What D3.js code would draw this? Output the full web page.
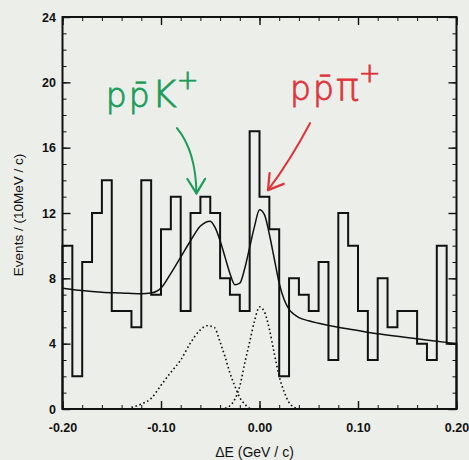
<!DOCTYPE html>
<html>
<head>
<meta charset="utf-8">
<script src="https://cdn.jsdelivr.net/npm/d3@7/dist/d3.min.js"></script>
<style>
  html, body { margin: 0; padding: 0; background: #eceee9; }
  svg { display: block; }
</style>
</head>
<body>
<svg id="chart" width="469" height="460"></svg>
<script>
// ΔE distribution: 40 bins of 10 MeV between -0.20 and 0.20 GeV
const binStart = -0.20;
const binWidth = 0.01;
const eventCounts = [
  10, 2, 9, 12, 14, 6, 6, 5, 14, 7,
  11, 13, 6, 12, 13, 12, 8, 7, 6, 17,
  13, 11, 2, 8, 7, 6, 9, 3, 12, 10,
  6, 3, 8, 5, 6, 6, 4, 3, 10, 4
];

// Total fit (signal + background), sampled along ΔE
const fitE = [-0.20, -0.18, -0.16, -0.14, -0.12, -0.11, -0.10, -0.09, -0.08, -0.07,
  -0.06, -0.05, -0.045, -0.04, -0.035, -0.03, -0.025, -0.02, -0.015, -0.01,
  -0.005, 0.00, 0.005, 0.01, 0.015, 0.02, 0.025, 0.03, 0.035, 0.04,
  0.05, 0.06, 0.08, 0.10, 0.12, 0.14, 0.16, 0.18, 0.20];
const fitTotal = [7.4, 7.25, 7.15, 7.1, 7.05, 7.1, 7.4, 8.3, 9.3, 10.3,
  11.2, 11.5, 11.1, 10.3, 9.3, 8.3, 7.6, 7.7, 8.6, 9.9,
  11.2, 12.2, 11.9, 10.7, 9.2, 7.7, 6.7, 6.1, 5.8, 5.6,
  5.4, 5.25, 5.0, 4.8, 4.6, 4.45, 4.3, 4.15, 4.0];

// p p̄ K+ signal component
const kaonE = [-0.13, -0.12, -0.11, -0.10, -0.09, -0.08, -0.07, -0.06, -0.053, -0.046,
  -0.04, -0.035, -0.03, -0.025, -0.02, -0.015, -0.01, -0.005];
const kaonSignal = [0.1, 0.3, 0.65, 1.45, 2.25, 3.0, 4.05, 4.85, 5.1, 5.0,
  4.1, 3.2, 2.2, 1.4, 0.7, 0.3, 0.05, 0.0];

// p p̄ π+ signal component
const pionE = [-0.035, -0.03, -0.025, -0.02, -0.015, -0.01, -0.005, 0.0, 0.005, 0.01,
  0.015, 0.02, 0.025, 0.03, 0.035, 0.04];
const pionSignal = [0.05, 0.2, 0.6, 1.4, 2.8, 4.1, 5.4, 6.25, 5.95, 4.9,
  3.4, 2.0, 1.05, 0.4, 0.1, 0.02];

// Axis ticks
const xTickValues = [-0.20, -0.10, 0.00, 0.10, 0.20];
const xTickLabels = ["-0.20", "-0.10", "0.00", "0.10", "0.20"];
const xMinorTicks = d3.range(-0.20, 0.2001, 0.02);
const yTickValues = [0, 4, 8, 12, 16, 20, 24];
const yTickLabels = ["0", "4", "8", "12", "16", "20", "24"];
const yMinorTicks = d3.range(0, 24.001, 1);

const W = 469, H = 460;
const margin = { left: 62.5, right: 12.5, top: 17, bottom: 51 };

const svg = d3.select("#chart");
const x = d3.scaleLinear().domain([-0.20, 0.20]).range([margin.left, W - margin.right]);
const y = d3.scaleLinear().domain([0, 24]).range([H - margin.bottom, margin.top]);

const ink = "#111";

// ---- axes (ticks point inward on all four sides) ----
function styleAxis(g) {
  g.select(".domain").remove();
  g.selectAll(".tick line").attr("stroke", ink);
  g.selectAll(".tick text")
    .attr("fill", ink)
    .style("font-family", "'Liberation Sans', Arial, sans-serif")
    .style("font-weight", "bold")
    .style("font-size", "12.5px");
}

const bottomY = y(0), topY = y(24), leftX = x(-0.2), rightX = x(0.2);

svg.append("g").attr("transform", `translate(0,${bottomY})`)
  .call(d3.axisBottom(x).tickValues(xMinorTicks).tickSize(-4).tickFormat(""))
  .call(styleAxis);
svg.append("g").attr("transform", `translate(0,${bottomY})`)
  .call(d3.axisBottom(x).tickValues(xTickValues).tickSize(-8).tickPadding(14)
    .tickFormat((d, i) => xTickLabels[i]))
  .call(styleAxis)
  .call(g => g.selectAll(".tick line").attr("stroke-width", 1.4));

svg.append("g").attr("transform", `translate(0,${topY})`)
  .call(d3.axisTop(x).tickValues(xMinorTicks).tickSize(-4).tickFormat(""))
  .call(styleAxis);
svg.append("g").attr("transform", `translate(0,${topY})`)
  .call(d3.axisTop(x).tickValues(xTickValues).tickSize(-8).tickFormat(""))
  .call(styleAxis)
  .call(g => g.selectAll(".tick line").attr("stroke-width", 1.4));

svg.append("g").attr("transform", `translate(${leftX},0)`)
  .call(d3.axisLeft(y).tickValues(yMinorTicks).tickSize(-4).tickFormat(""))
  .call(styleAxis);
svg.append("g").attr("transform", `translate(${leftX},0)`)
  .call(d3.axisLeft(y).tickValues(yTickValues).tickSize(-8).tickPadding(6.5)
    .tickFormat((d, i) => yTickLabels[i]))
  .call(styleAxis)
  .call(g => g.selectAll(".tick line").attr("stroke-width", 1.4));

svg.append("g").attr("transform", `translate(${rightX},0)`)
  .call(d3.axisRight(y).tickValues(yMinorTicks).tickSize(-4).tickFormat(""))
  .call(styleAxis);
svg.append("g").attr("transform", `translate(${rightX},0)`)
  .call(d3.axisRight(y).tickValues(yTickValues).tickSize(-8).tickFormat(""))
  .call(styleAxis)
  .call(g => g.selectAll(".tick line").attr("stroke-width", 1.4));

// ---- signal components (dotted) ----
const line = d3.line().x(d => x(d[0])).y(d => y(d[1])).curve(d3.curveMonotoneX);

svg.append("path")
  .datum(kaonE.map((e, i) => [e, kaonSignal[i]]))
  .attr("d", line)
  .attr("fill", "none").attr("stroke", ink)
  .attr("stroke-width", 1.6).attr("stroke-dasharray", "1.6 2.6");

svg.append("path")
  .datum(pionE.map((e, i) => [e, pionSignal[i]]))
  .attr("d", line)
  .attr("fill", "none").attr("stroke", ink)
  .attr("stroke-width", 1.6).attr("stroke-dasharray", "1.6 2.6");

// ---- total fit ----
svg.append("path")
  .datum(fitE.map((e, i) => [e, fitTotal[i]]))
  .attr("d", line)
  .attr("fill", "none").attr("stroke", ink).attr("stroke-width", 1.5);

// ---- histogram outline ----
const hist = d3.path();
hist.moveTo(x(binStart), y(0));
eventCounts.forEach((c, i) => {
  const x0 = x(binStart + i * binWidth);
  const x1 = x(binStart + (i + 1) * binWidth);
  hist.lineTo(x0, y(c));
  hist.lineTo(x1, y(c));
});
hist.lineTo(x(binStart + eventCounts.length * binWidth), y(0));
svg.append("path")
  .attr("d", hist.toString())
  .attr("fill", "none").attr("stroke", ink)
  .attr("stroke-width", 2).attr("stroke-linejoin", "miter");

// ---- frame ----
svg.append("rect")
  .attr("x", leftX).attr("y", topY)
  .attr("width", rightX - leftX).attr("height", bottomY - topY)
  .attr("fill", "none").attr("stroke", ink).attr("stroke-width", 2);

// ---- axis titles ----
svg.append("text")
  .attr("x", (leftX + rightX) / 2 - 5).attr("y", 457)
  .attr("text-anchor", "middle")
  .style("font-family", "'Liberation Sans', Arial, sans-serif")
  .style("font-size", "14px").attr("fill", ink)
  .text("ΔE (GeV / c)");

svg.append("text")
  .attr("transform", `translate(23,${(topY + bottomY) / 2 + 2}) rotate(-90)`)
  .attr("text-anchor", "middle")
  .style("font-family", "'Liberation Sans', Arial, sans-serif")
  .style("font-size", "13.5px").attr("fill", ink)
  .text("Events / (10MeV / c)");

// ---- hand-written channel labels with arrows ----
const channels = [
  { base: "pp\u0304", meson: "K", color: "#1c9c58",
    labelAt: [-0.156, 18.5],
    arrow: [[-0.0838, 17.2], [-0.0646, 15.8], [-0.0640, 13.2]] },
  { base: "pp\u0304", meson: "\u03C0", color: "#e0333a",
    labelAt: [0.031, 18.9],
    arrow: [[0.0513, 17.5], [0.031, 15.2], [0.0086, 13.4]] }
];

channels.forEach(ch => {
  const t = svg.append("text")
    .attr("x", x(ch.labelAt[0])).attr("y", y(ch.labelAt[1]))
    .attr("fill", ch.color)
    .attr("stroke", ch.color).attr("stroke-width", 0.8)
    .style("font-family", "'DejaVu Sans', sans-serif")
    .style("font-weight", "300");
  t.append("tspan").style("font-size", "33px").attr("letter-spacing", "2").text(ch.base);
  t.append("tspan").style("font-size", "38px").text(ch.meson);
  t.append("tspan").style("font-size", "26px").attr("dy", -18).text("+");

  const pts = ch.arrow.map(d => [x(d[0]), y(d[1])]);
  const ap = d3.path();
  ap.moveTo(pts[0][0], pts[0][1]);
  ap.quadraticCurveTo(pts[1][0], pts[1][1], pts[2][0], pts[2][1]);
  svg.append("path").attr("d", ap.toString())
    .attr("fill", "none").attr("stroke", ch.color).attr("stroke-width", 2)
    .attr("stroke-linecap", "round");

  // arrow head oriented along the last segment
  const [tx, ty] = pts[2];
  const ang = Math.atan2(ty - pts[1][1], tx - pts[1][0]);
  const len = 17, spread = 0.55;
  const head = d3.path();
  head.moveTo(tx - len * Math.cos(ang - spread), ty - len * Math.sin(ang - spread));
  head.lineTo(tx, ty);
  head.lineTo(tx - len * Math.cos(ang + spread), ty - len * Math.sin(ang + spread));
  svg.append("path").attr("d", head.toString())
    .attr("fill", "none").attr("stroke", ch.color).attr("stroke-width", 2.2)
    .attr("stroke-linecap", "round").attr("stroke-linejoin", "round");
});
</script>
</body>
</html>
